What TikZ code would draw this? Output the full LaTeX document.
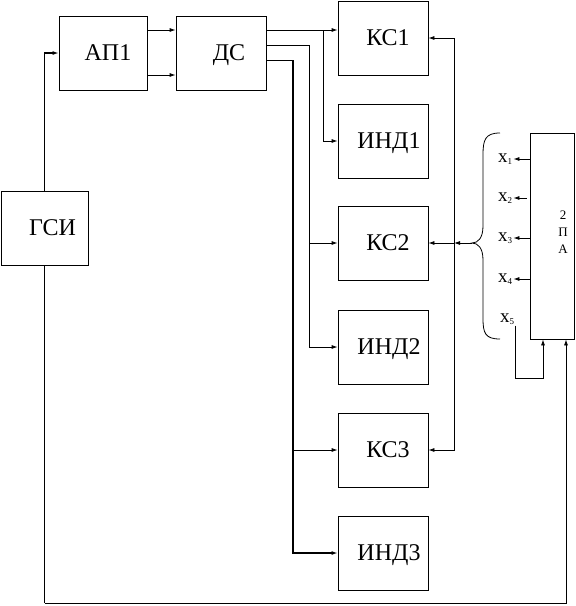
\documentclass[tikz,border=0pt]{standalone}
\usepackage{fontspec}
\setmainfont{Liberation Serif}
\usetikzlibrary{arrows.meta}

\newcommand{\xsub}[1]{x\raisebox{-1.5pt}{\fontsize{9}{9}\selectfont #1}}

\begin{document}
\begin{tikzpicture}[x=1pt,y=-1pt, line width=0.8pt,
    block/.style={draw, minimum width=90, minimum height=74, inner sep=0pt},
    lbl/.style={font=\fontsize{24}{26}\selectfont, text depth=0pt},
    arr/.style={-{Latex[length=6pt,width=4pt]}},
    heavy/.style={line width=1.4pt},
    xlbl/.style={font=\fontsize{19}{19}\selectfont, inner sep=1pt}]
  \useasboundingbox (0,0) rectangle (576,606);

  % left column
  \node[block, minimum width=87, label={[lbl, xshift=8]center:ГСИ}] (gsi) at (44.5,228) {};
  \node[block, minimum width=88, label={[lbl, xshift=5]center:АП1}] (ap1) at (103,53) {};
  \node[block, label={[lbl, xshift=8]center:ДС}] (ds) at (221,53) {};

  % outputs
  \node[block, label={[lbl, xshift=5]center:КС1}] (ks1) at (383,38) {};
  \node[block, label={[lbl, xshift=6]center:ИНД1}] (ind1) at (383,141) {};
  \node[block, label={[lbl, xshift=5]center:КС2}] (ks2) at (383,243) {};
  \node[block, label={[lbl, xshift=6]center:ИНД2}] (ind2) at (383,347) {};
  \node[block, label={[lbl, xshift=5]center:КС3}] (ks3) at (383,450) {};
  \node[block, label={[lbl, xshift=6]center:ИНД3}] (ind3) at (383,553) {};

  % 2PA
  \node[draw, minimum width=44, minimum height=206, inner sep=0pt,
    label={[font=\fontsize{13}{17}\selectfont, align=center, xshift=11, yshift=4]center:2\\П\\А}] (pa) at (552,236) {};
  \node[xlbl] (x1) at (505,159) {\xsub{1}};
  \node[xlbl] (x2) at (505,198) {\xsub{2}};
  \node[xlbl] (x3) at (505,238) {\xsub{3}};
  \node[xlbl] (x4) at (505,279) {\xsub{4}};
  \node[xlbl] (x5) at (507,319) {\xsub{5}};

  \coordinate (ja) at (323,30);
  \coordinate (jb) at (309,45);
  \coordinate (jc) at (293,60);
  \coordinate (jr) at (454,243);
  \coordinate (bt) at (472,243);

  % GSI -> AP1 -> DS
  \draw[heavy, arr] (gsi.north) |- (ap1.west);
  \draw[arr] (ap1.east |- 0,30) -- (ds.west |- 0,30);
  \draw[arr] (ap1.east |- 0,75) -- (ds.west |- 0,75);

  % DS -> KS, IND
  \draw (ds.east |- ja) -- (ja);
  \draw[arr] (ja) -- (ks1.west |- ja);
  \draw[arr] (ja) |- (ind1.west);
  \draw[arr] (ds.east |- jb) -- (jb) |- (ind2.west);
  \draw[arr] (jb |- ks2.west) -- (ks2.west);
  \draw (ds.east |- jc) -- (jc);
  \draw[heavy, arr] (jc) |- (ind3.west);
  \draw[arr] (jc |- ks3.west) -- (ks3.west);

  % brace
  \draw (500,133) .. controls (485,133) and (483,140) .. (483,155) -- (483,226)
    .. controls (483,238) and (478,243) .. (bt)
    .. controls (478,243) and (483,248) .. (483,260) -- (483,318)
    .. controls (483,333) and (485,339) .. (500,339);

  \draw[arr] (bt) -- (jr);
  \draw[arr] (jr) -- (ks2.east);
  \draw[arr] (jr) |- (ks1.east);
  \draw[arr] (jr) |- (ks3.east);

  % 2PA -> x
  \draw[arr] (pa.west |- x1) -- (x1.east);
  \draw[arr, shorten <=3pt] (pa.west |- x2) -- (x2.east);
  \draw[arr] (pa.west |- x3) -- (x3.east);
  \draw[arr] (pa.west |- x4) -- (x4.east);
  \draw[arr] (x5.south east) |- (543,378) -- ([xshift=-9]pa.south);

  % feedback
  \draw[heavy] (gsi.south) -- (gsi.south |- 0,603);
  \draw[arr] (gsi.south |- 0,603) -| ([xshift=14]pa.south);
\end{tikzpicture}
\end{document}
